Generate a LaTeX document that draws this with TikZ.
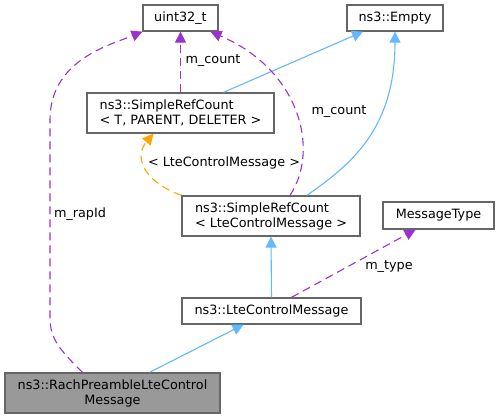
\documentclass[tikz,border=0pt]{standalone}
\usepackage{fontspec}
\setmainfont{DejaVu Sans}
\usepackage{xcolor}
\usepackage{tikz}
\usetikzlibrary{shapes,arrows.meta,positioning,calc}

\definecolor{memberpurple}{HTML}{9A32CD}
\definecolor{inheritblue}{HTML}{63B8FF}
\definecolor{templorange}{HTML}{FFA500}
\definecolor{boxgray}{HTML}{666666}
\definecolor{focusgray}{HTML}{999999}

\begin{document}
\begin{tikzpicture}[x=1pt, y=-1pt,
  cls/.style={draw=boxgray, line width=1.3pt, font=\fontsize{12.8}{15}\selectfont, inner sep=0pt, align=center},
  inherit/.style={inheritblue, line width=1.1pt, -{Triangle[length=11pt,width=11pt]}},
  member/.style={memberpurple, line width=1.1pt, dash pattern=on 8pt off 5pt, -{Triangle[length=11pt,width=11pt]}},
  templ/.style={templorange, line width=1.1pt, dash pattern=on 8pt off 5pt, -{Triangle[length=11pt,width=11pt]}},
  lbl/.style={font=\fontsize{12.8}{15}\selectfont, text=black}]
\fill[white] (0,0) rectangle (500,419);
\useasboundingbox (0,0) rectangle (500,419);

% Class boxes
\node[cls, minimum width=75pt, minimum height=26pt] (uint) at (180.5,18) {uint32\_t};
\node[cls, minimum width=96pt, minimum height=26pt] (empty) at (395,18) {ns3::Empty};
\node[cls, minimum width=187pt, minimum height=40pt, align=left] (srcT) at (180.5,113) {ns3::SimpleRefCount\\< T, PARENT, DELETER >};
\node[cls, minimum width=178pt, minimum height=40pt, align=left] (srcL) at (271,216) {ns3::SimpleRefCount\\< LteControlMessage >};
\node[cls, minimum width=111pt, minimum height=27pt] (msgtype) at (438.5,215.5) {MessageType};
\node[cls, minimum width=179pt, minimum height=26pt] (ltecm) at (271.5,311) {ns3::LteControlMessage};
\node[cls, fill=focusgray, minimum width=215pt, minimum height=40pt] (rach) at (112.5,393) {ns3::RachPreambleLteControl\\Message};

% Inheritance
\draw[inherit] ([xshift=43pt]srcT.north) -- ([xshift=-32pt]empty.south);
\draw[inherit] ([xshift=36pt]srcL.north) .. controls (350,165) and (395,130) .. (empty.south);
\draw[inherit] (ltecm.north) -- (srcL.south);
\draw[inherit] ([xshift=37pt]rach.north) -- ([xshift=-28pt]ltecm.south);

% Template instance
\draw[templ] (srcL.north west) .. controls (140,180) and (135,155) .. ([xshift=-27pt]srcT.south);

% Members
\draw[member] (srcT.north) -- (uint.south);
\draw[member] ([xshift=19pt]srcL.north) .. controls (320,150) and (300,70) .. ([xshift=30pt]uint.south);
\draw[member] ([xshift=20pt]ltecm.north) -- ([xshift=-23pt]msgtype.south);
\draw[member] ([xshift=-30pt]rach.north) .. controls (62,352) and (50,340) .. (50,318) -- (50,120) .. controls (50,60) and (110,45) .. ([xshift=-38pt]uint.south);

% Labels
\node[lbl] (lblCount) at (213,61) {m\_count};
\node[lbl] (lblCountL) at (339,112) {m\_count};
\node[lbl] (lblArg) at (224,163) {< LteControlMessage >};
\node[lbl] (lblType) at (389,267) {m\_type};
\node[lbl] (lblRap) at (80,214) {m\_rapId};
\end{tikzpicture}
\end{document}
